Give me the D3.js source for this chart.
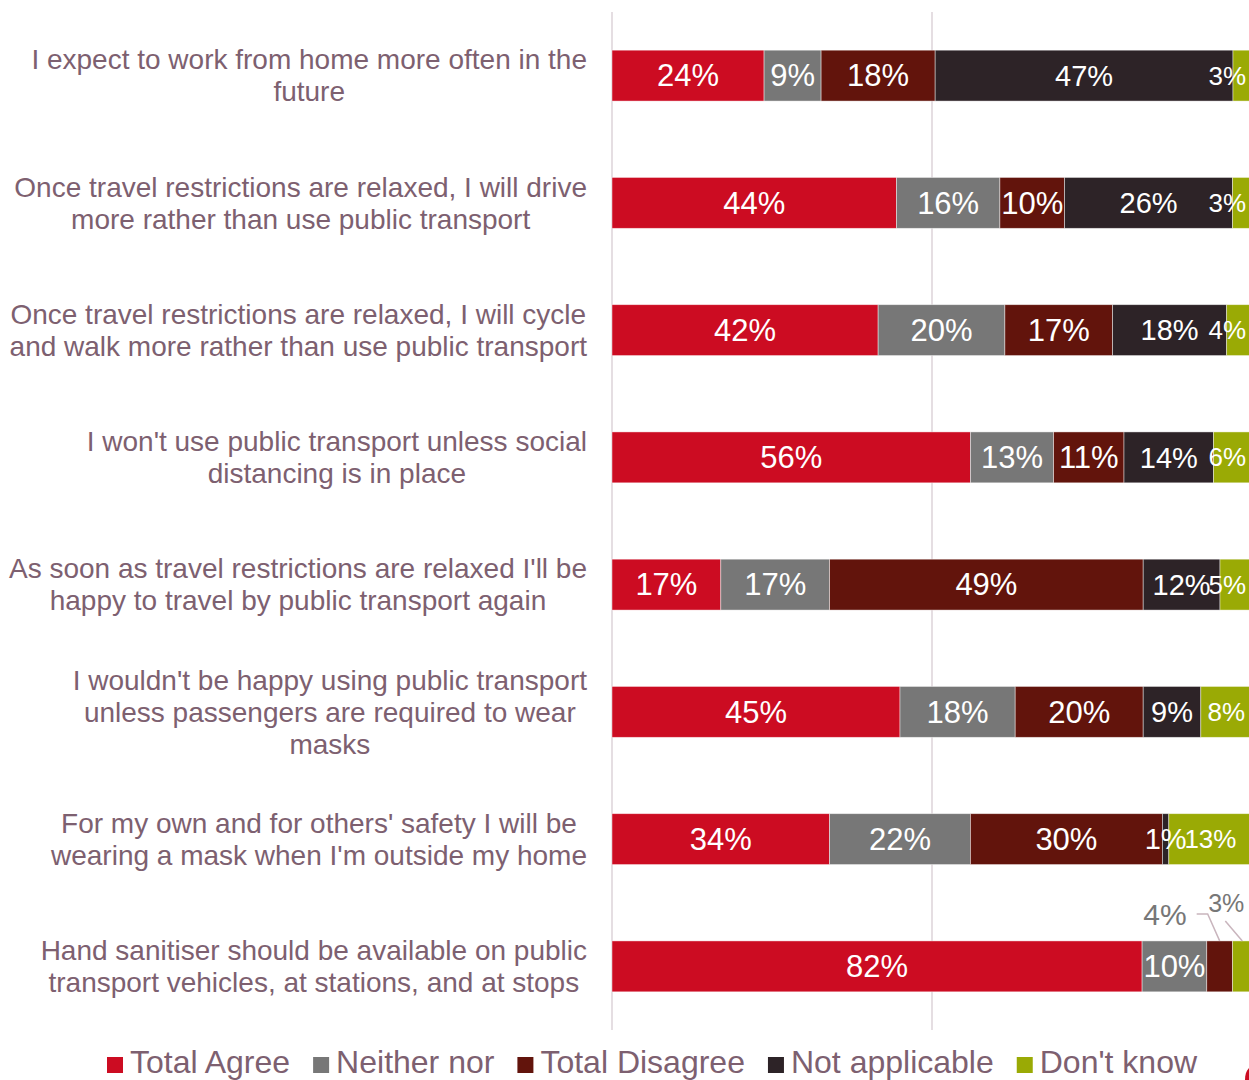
<!DOCTYPE html>
<html>
<head>
<meta charset="utf-8">
<script src="https://cdn.jsdelivr.net/npm/d3@7"></script>
<style>
  html, body { margin: 0; padding: 0; background: #fff; }
  svg { display: block; }
  text { font-family: 'Liberation Sans', Arial, Helvetica, sans-serif; }
</style>
</head>
<body>
<svg id="chart" width="1249" height="1080"></svg>
<script>
// ---------- DATA ----------
const categoryLines = [
  ["I expect to work from home more often in the", "future"],
  ["Once travel restrictions are relaxed, I will drive", "more rather than use public transport"],
  ["Once travel restrictions are relaxed, I will cycle", "and walk more rather than use public transport"],
  ["I won't use public transport unless social", "distancing is in place"],
  ["As soon as travel restrictions are relaxed I'll be", "happy to travel by public transport again"],
  ["I wouldn't be happy using public transport", "unless passengers are required to wear", "masks"],
  ["For my own and for others' safety I will be", "wearing a mask when I'm outside my home"],
  ["Hand sanitiser should be available on public", "transport vehicles, at stations, and at stops"]
];
const seriesNames = ["Total Agree", "Neither nor", "Total Disagree", "Not applicable", "Don't know"];
const totalAgree    = [24, 44, 42, 56, 17, 45, 34, 82];
const neitherNor    = [ 9, 16, 20, 13, 17, 18, 22, 10];
const totalDisagree = [18, 10, 17, 11, 49, 20, 30,  4];
const notApplicable = [47, 26, 18, 14, 12,  9,  1,  0];
const dontKnow      = [ 3,  3,  4,  6,  5,  8, 13,  3];
const seriesColors  = ["#cc0c22", "#777777", "#62140c", "#2d2327", "#9aaa05"];
const gridTicks     = [0, 0.5, 1];

// ---------- BUILD ----------
const seriesValues = [totalAgree, neitherNor, totalDisagree, notApplicable, dontKnow];
const rows = categoryLines.map((c, i) => {
  const o = { idx: i };
  seriesNames.forEach((s, k) => o[s] = seriesValues[k][i]);
  return o;
});

const svg = d3.select("#chart");
const labelColor = "#7d6070";

const x = d3.scaleLinear().domain([0, 1]).range([612, 1252]);
const y = d3.scaleBand().domain(rows.map(r => r.idx)).range([12, 1030])
  .paddingInner(0.6).paddingOuter(0.3);

const stack = d3.stack().keys(seriesNames).offset(d3.stackOffsetExpand);
const stacked = stack(rows);

// gridlines
svg.append("g").selectAll("line").data(gridTicks).join("line")
  .attr("x1", d => x(d)).attr("x2", d => x(d))
  .attr("y1", 12).attr("y2", 1030)
  .attr("stroke", "#dcd3d8").attr("stroke-width", 1.5);

// bars
const layers = svg.append("g").selectAll("g").data(stacked).join("g")
  .attr("fill", (d, i) => seriesColors[i]);
layers.selectAll("rect").data(d => d.filter(p => p[1] - p[0] > 0)).join("rect")
  .attr("x", d => x(d[0]))
  .attr("y", d => y(d.data.idx))
  .attr("width", d => x(d[1]) - x(d[0]))
  .attr("height", y.bandwidth())
  .attr("stroke", "#ffffff").attr("stroke-opacity", 0.55).attr("stroke-width", 0.8);

// value labels
const labelSizes = [31, 31, 31, 29, 26];
const calloutSet = new Set(["7|2", "7|4"]);
const labelG = svg.append("g");
stacked.forEach((layer, k) => {
  layer.forEach(p => {
    const v = seriesValues[k][p.data.idx];
    if (!(v > 0)) return;
    if (calloutSet.has(p.data.idx + "|" + k)) return;
    const cy = y(p.data.idx) + y.bandwidth() / 2;
    const t = labelG.append("text")
      .attr("font-size", labelSizes[k])
      .attr("fill", "#ffffff")
      .attr("text-anchor", "middle")
      .attr("dy", "0.35em")
      .attr("y", cy)
      .text(v + "%");
    const w = t.node().getComputedTextLength();
    let cx = x((p[0] + p[1]) / 2);
    cx = Math.min(cx, 1246 - w / 2);
    t.attr("x", cx);
  });
});

// callouts for small segments in last row
const leaderColor = "#c9b5bd";
stacked.forEach((layer, k) => {
  layer.forEach(p => {
    const key = p.data.idx + "|" + k;
    if (!calloutSet.has(key)) return;
    const v = seriesValues[k][p.data.idx];
    const xc = x((p[0] + p[1]) / 2);
    const yt = y(p.data.idx);
    if (k === 2) {
      svg.append("path")
        .attr("d", `M${xc},${yt} L${xc - 12},${yt - 27} L${xc - 23},${yt - 27}`)
        .attr("fill", "none").attr("stroke", leaderColor).attr("stroke-width", 1.5);
      svg.append("text").attr("x", xc - 33).attr("y", yt - 26).attr("dy", "0.35em")
        .attr("text-anchor", "end").attr("font-size", 30).attr("fill", "#777777")
        .text(v + "%");
    } else {
      svg.append("path")
        .attr("d", `M${xc},${yt} L${xc - 17},${yt - 20}`)
        .attr("fill", "none").attr("stroke", leaderColor).attr("stroke-width", 1.5);
      svg.append("text").attr("x", xc - 16).attr("y", yt - 38).attr("dy", "0.35em")
        .attr("text-anchor", "middle").attr("font-size", 25).attr("fill", "#777777")
        .text(v + "%");
    }
  });
});

// category labels
const catG = svg.append("g");
const rightEdge = 587, lineH = 32;
categoryLines.forEach((lines, i) => {
  const cy = y(i) + y.bandwidth() / 2;
  const g = catG.append("g");
  const texts = lines.map((ln, j) => g.append("text")
    .attr("font-size", 28).attr("fill", labelColor)
    .attr("text-anchor", "middle").attr("dy", "0.35em")
    .attr("y", cy + (j - (lines.length - 1) / 2) * lineH)
    .text(ln));
  const maxW = d3.max(texts, t => t.node().getComputedTextLength());
  texts.forEach(t => t.attr("x", rightEdge - maxW / 2));
});

// legend
const legG = svg.append("g");
let lx = 107;
seriesNames.forEach((s, k) => {
  legG.append("rect").attr("x", lx).attr("y", 1057).attr("width", 16).attr("height", 16)
    .attr("fill", seriesColors[k]);
  const t = legG.append("text").attr("x", lx + 23).attr("y", 1073)
    .attr("font-size", 32).attr("fill", labelColor).text(s);
  lx = lx + 23 + t.node().getComputedTextLength() + 23;
});

// corner mark
svg.append("path")
  .attr("d", "M1249,1068 C1246,1071 1245,1075 1245,1080 L1249,1080 Z")
  .attr("fill", "#cc0c22");
</script>
</body>
</html>
